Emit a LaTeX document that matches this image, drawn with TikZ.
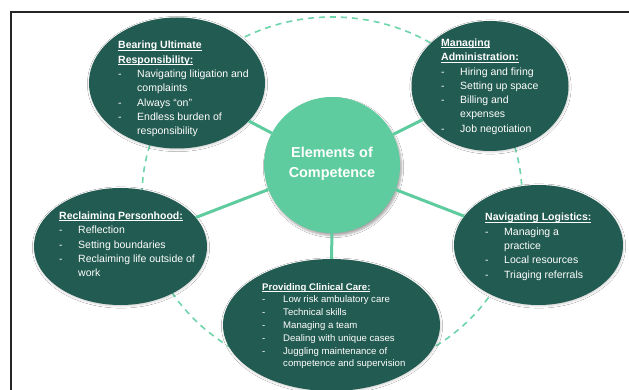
\documentclass[tikz,border=0pt]{standalone}
\usepackage{fontspec}
\setmainfont{Liberation Sans}
\usetikzlibrary{shapes.geometric,shadows.blur}
\definecolor{darkteal}{HTML}{225B51}
\definecolor{mint}{HTML}{5ECC9E}
\definecolor{mintdash}{HTML}{6ED4AA}
\newcommand{\hd}[1]{\setbox0\hbox{\textbf{#1}}\rlap{\rule[-1.5pt]{\wd0}{0.6pt}}\box0}
\newcommand{\itm}{\makebox[19pt][l]{-}}
\newcommand{\ind}{\hspace*{19pt}}
\begin{document}
\begin{tikzpicture}[x=1pt,y=-1pt,
  bubble/.style={ellipse, fill=darkteal, inner sep=0pt,
    blur shadow={shadow xshift=0.5pt, shadow yshift=-1pt, shadow opacity=20, shadow blur steps=4}},
  hub/.style={circle, fill=mint, inner sep=0pt, minimum size=136pt,
    blur shadow={shadow xshift=1.5pt, shadow yshift=-2.5pt, shadow opacity=35, shadow blur steps=6}},
  conn/.style={draw=mint, line width=3pt},
  lbl/.style={anchor=base west, inner sep=0pt, text=white, font=\fontsize{10.5}{14.3}\selectfont},
  lblsmall/.style={anchor=base west, inner sep=0pt, text=white, font=\fontsize{9.6}{12.8}\selectfont},
]
\useasboundingbox (0,0) rectangle (629,390);
\fill[white] (0,0) rectangle (629,390);
% frame
\draw[line width=2pt, black!85] (11,400) -- (11,12) -- (640,12);
% dashed ring
\draw[mintdash, line width=1.6pt, dash pattern=on 6pt off 5pt] (332,196) ellipse [x radius=190pt, y radius=179pt];
% nodes
\node[hub] (c) at (332,165) {};
\node[bubble, minimum width=176pt, minimum height=131pt] (e1) at (177,83) {};
\node[bubble, minimum width=157pt, minimum height=130pt] (e2) at (490,86) {};
\node[bubble, minimum width=173pt, minimum height=117pt] (e3) at (120.5,246.5) {};
\node[bubble, minimum width=169pt, minimum height=120pt] (e4) at (538.5,245) {};
\node[bubble, minimum width=217pt, minimum height=132pt] (e5) at (331.5,325) {};
% connectors
\draw[conn] (c) -- (e1);
\draw[conn] (c) -- (e2);
\draw[conn] (c) -- (e3);
\draw[conn] (c) -- (e4);
\draw[conn] (c) -- (e5);
% center text
\node[text=white, align=center, font=\fontsize{14.4}{20}\selectfont\bfseries] (ct) at (332,164) {Elements of\\Competence};
% texts
\node[lbl] (t1) at (118,49) {\begin{tabular}[t]{@{}l@{}}
\hd{Bearing Ultimate}\\
\hd{Responsibility:}\\
\itm Navigating litigation and\\
\ind complaints\\
\itm Always “on”\\
\itm Endless burden of\\
\ind responsibility
\end{tabular}};
\node[lbl] (t2) at (441,46.5) {\begin{tabular}[t]{@{}l@{}}
\hd{Managing}\\
\hd{Administration:}\\
\itm Hiring and firing\\
\itm Setting up space\\
\itm Billing and\\
\ind expenses\\
\itm Job negotiation
\end{tabular}};
\node[lbl] (t3) at (59,219.5) {\begin{tabular}[t]{@{}l@{}}
\hd{Reclaiming Personhood:}\\
\itm Reflection\\
\itm Setting boundaries\\
\itm Reclaiming life outside of\\
\ind work
\end{tabular}};
\node[lbl] (t4) at (485,221) {\begin{tabular}[t]{@{}l@{}}
\hd{Navigating Logistics:}\\
\itm Managing a\\
\ind practice\\
\itm Local resources\\
\itm Triaging referrals
\end{tabular}};
\node[lblsmall] (t5) at (262,290) {\begin{tabular}[t]{@{}l@{}}
\hd{Providing Clinical Care:}\\
\makebox[21pt][l]{-}Low risk ambulatory care\\
\makebox[21pt][l]{-}Technical skills\\
\makebox[21pt][l]{-}Managing a team\\
\makebox[21pt][l]{-}Dealing with unique cases\\
\makebox[21pt][l]{-}Juggling maintenance of\\
\hspace*{21pt}competence and supervision
\end{tabular}};
\end{tikzpicture}
\end{document}
